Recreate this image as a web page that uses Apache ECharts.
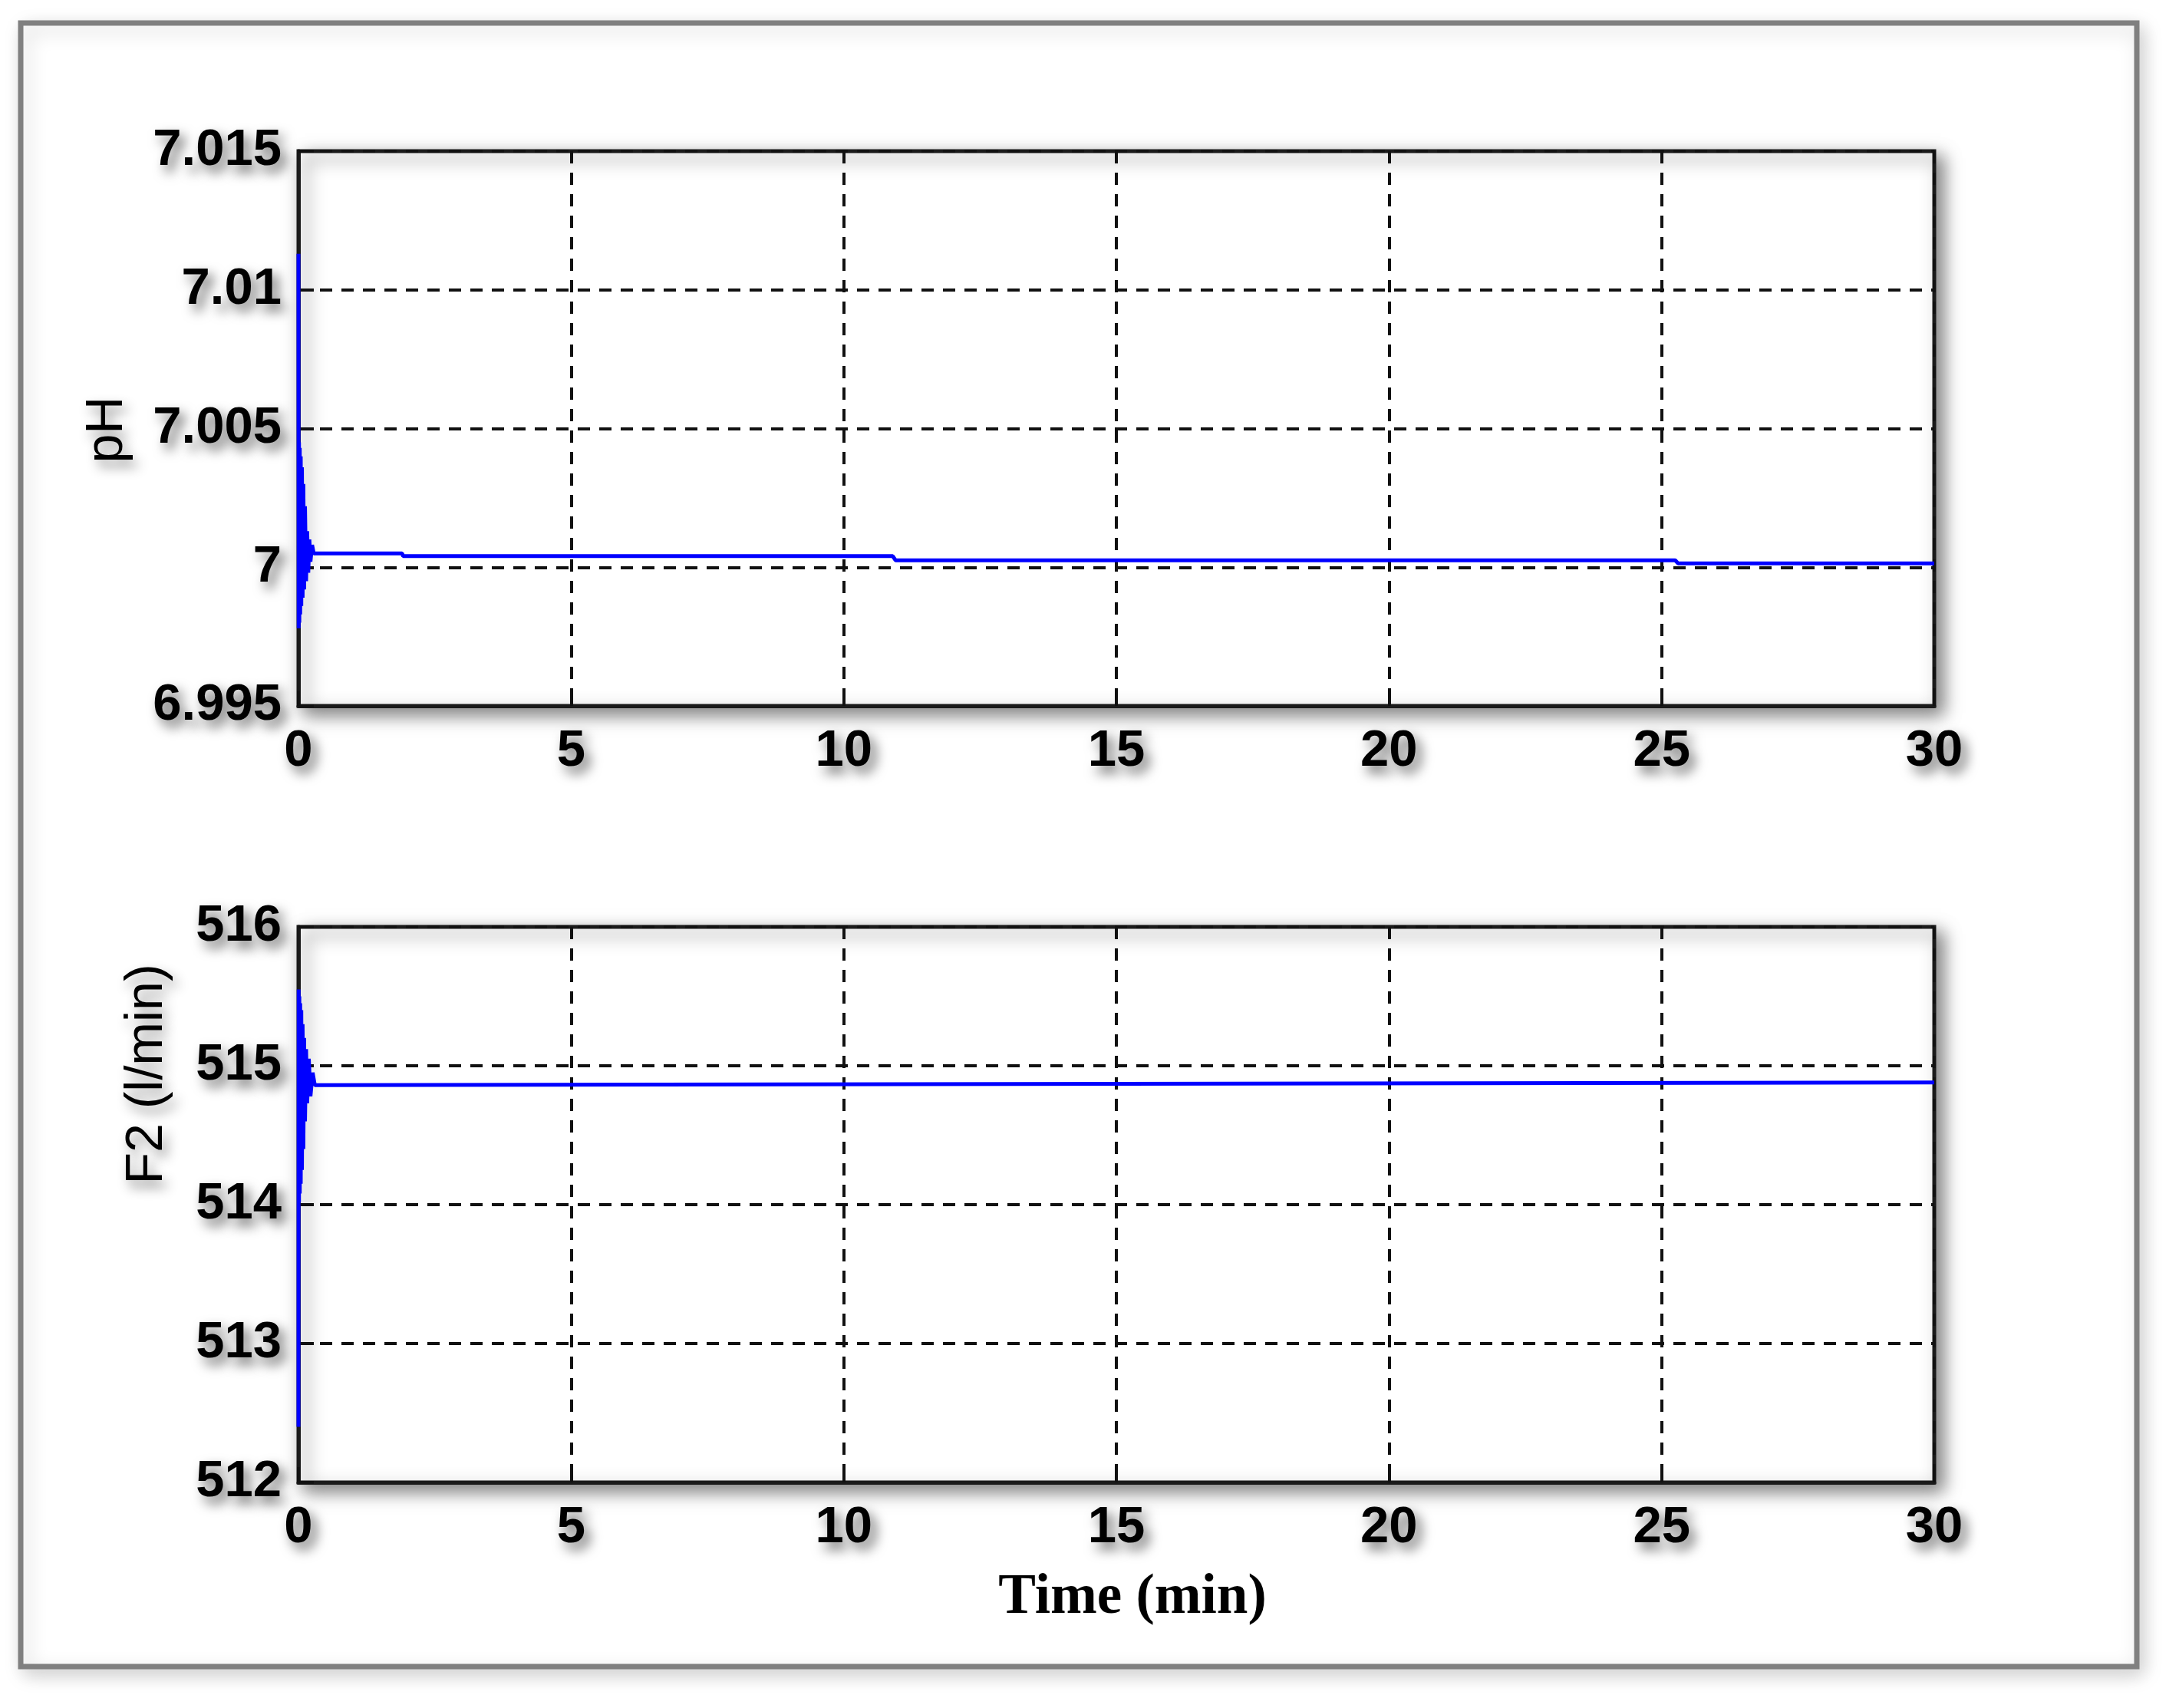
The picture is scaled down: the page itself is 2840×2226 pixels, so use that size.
<!DOCTYPE html>
<html>
<head>
<meta charset="utf-8">
<script src="https://cdn.jsdelivr.net/npm/echarts@6/dist/echarts.min.js"></script>
<style>
html,body{margin:0;padding:0;background:#fff;}
#chart{width:2840px;height:2226px;}
</style>
</head>
<body>
<div id="chart"></div>
<script>
// ---- data ----
const phTime = [0, 0.004, 0.01, 0.016, 0.024, 0.032, 0.042, 0.052, 0.064, 0.076, 0.09, 0.104, 0.12, 0.14, 0.16, 0.18, 0.2, 0.22, 0.25, 0.28, 1.9, 1.92, 10.9, 10.95, 25.25, 25.3, 30];
const phValues = [7.0113, 6.9978, 7.0045, 6.998, 7.0043, 6.9983, 7.004, 6.9986, 7.0036, 6.9989, 7.003, 6.9992, 7.0022, 6.9995, 7.0013, 6.9998, 7.001, 7.0002, 7.0008, 7.0005, 7.0005, 7.0004, 7.0004, 7.00025, 7.00025, 7.00014, 7.00014];
const f2Time = [0, 0.004, 0.01, 0.016, 0.024, 0.032, 0.042, 0.052, 0.064, 0.076, 0.09, 0.104, 0.12, 0.14, 0.16, 0.19, 0.22, 0.26, 0.3, 30];
const f2Values = [512.4, 515.55, 514.02, 515.5, 514.08, 515.45, 514.15, 515.4, 514.25, 515.3, 514.4, 515.2, 514.6, 515.12, 514.73, 515.05, 514.78, 514.95, 514.86, 514.88];
const xTicks = [0, 5, 10, 15, 20, 25, 30];
const phTicks = [6.995, 7, 7.005, 7.01, 7.015];
const f2Ticks = [512, 513, 514, 515, 516];
const xTitle = 'Time (min)';
const phName = 'pH';
const f2Name = 'F2 (l/min)';

const chart = echarts.init(document.getElementById('chart'), null, {renderer: 'canvas'});

const tickFont = "'Liberation Sans Narrow', 'Arial Narrow', 'Liberation Sans', Arial, sans-serif";
const labelShadow = {
  textShadowColor: 'rgba(0,0,0,0.6)',
  textShadowBlur: 16,
  textShadowOffsetX: 7,
  textShadowOffsetY: 9
};
const labelStyle = Object.assign({
  color: '#000',
  fontFamily: tickFont,
  fontWeight: 'bold',
  fontSize: 67
}, labelShadow);

const gridCommon = {
  show: true,
  backgroundColor: '#fff',
  borderColor: '#1a1a1a',
  borderWidth: 5,
  shadowColor: 'rgba(0,0,0,0.5)',
  shadowBlur: 22,
  shadowOffsetX: 9,
  shadowOffsetY: 9
};

function xAxisDef(gi) {
  return {
    type: 'value', gridIndex: gi, min: xTicks[0], max: xTicks[xTicks.length - 1],
    interval: xTicks[1] - xTicks[0],
    axisLine: {show: true, onZero: false, lineStyle: {color: '#1a1a1a', width: 5}},
    axisTick: {show: true, inside: true, length: 20, lineStyle: {color: '#111', width: 4}},
    axisLabel: Object.assign({margin: 26, formatter: v => String(v)}, labelStyle),
    splitLine: {show: true, lineStyle: {color: '#111', width: 4, type: [16, 12]}}
  };
}
function yAxisDef(gi, ticks) {
  return {
    type: 'value', gridIndex: gi, min: ticks[0], max: ticks[ticks.length - 1],
    interval: +(ticks[1] - ticks[0]).toFixed(6),
    axisLine: {show: true, onZero: false, lineStyle: {color: '#1a1a1a', width: 5}},
    axisTick: {show: true, inside: true, length: 20, lineStyle: {color: '#111', width: 4}},
    axisLabel: Object.assign({margin: 22, formatter: v => String(+(+v).toFixed(3))}, labelStyle),
    splitLine: {show: true, lineStyle: {color: '#111', width: 4, type: [16, 12]}}
  };
}

const nameStyle = {
  fontFamily: tickFont,
  fontWeight: 'normal',
  fontSize: 68,
  fill: '#000',
  textAlign: 'center',
  textVerticalAlign: 'middle',
  textShadowColor: 'rgba(0,0,0,0.45)',
  textShadowBlur: 16,
  textShadowOffsetX: 6,
  textShadowOffsetY: 9
};

const option = {
  animation: false,
  backgroundColor: 'transparent',
  graphic: [
    {
      type: 'rect', z: -100,
      shape: {x: 27, y: 30, width: 2758, height: 2142},
      style: {fill: '#fff', stroke: '#808080', lineWidth: 7,
              shadowColor: 'rgba(0,0,0,0.18)', shadowBlur: 24, shadowOffsetX: 6, shadowOffsetY: 8}
    },
    {
      type: 'text', x: 140, y: 560, rotation: Math.PI / 2,
      style: Object.assign({text: phName}, nameStyle)
    },
    {
      type: 'text', x: 192, y: 1400, rotation: Math.PI / 2,
      style: Object.assign({text: f2Name}, nameStyle)
    },
    {
      type: 'text', x: 1476, y: 2083,
      style: {text: xTitle, fontFamily: "'Liberation Serif', 'Times New Roman', serif",
              fontWeight: 'bold', fontSize: 73, fill: '#000', textAlign: 'center', textVerticalAlign: 'middle'}
    }
  ],
  grid: [
    Object.assign({left: 389, top: 197, width: 2132, height: 723}, gridCommon),
    Object.assign({left: 389, top: 1208, width: 2132, height: 724}, gridCommon)
  ],
  xAxis: [xAxisDef(0), xAxisDef(1)],
  yAxis: [yAxisDef(0, phTicks), yAxisDef(1, f2Ticks)],
  series: [
    {
      type: 'line', xAxisIndex: 0, yAxisIndex: 0, showSymbol: false, z: 3,
      lineStyle: {color: '#0000ff', width: 5},
      data: phTime.map((t, i) => [t, phValues[i]])
    },
    {
      type: 'line', xAxisIndex: 1, yAxisIndex: 1, showSymbol: false, z: 3,
      lineStyle: {color: '#0000ff', width: 5},
      data: f2Time.map((t, i) => [t, f2Values[i]])
    }
  ]
};
chart.setOption(option);
</script>
</body>
</html>
